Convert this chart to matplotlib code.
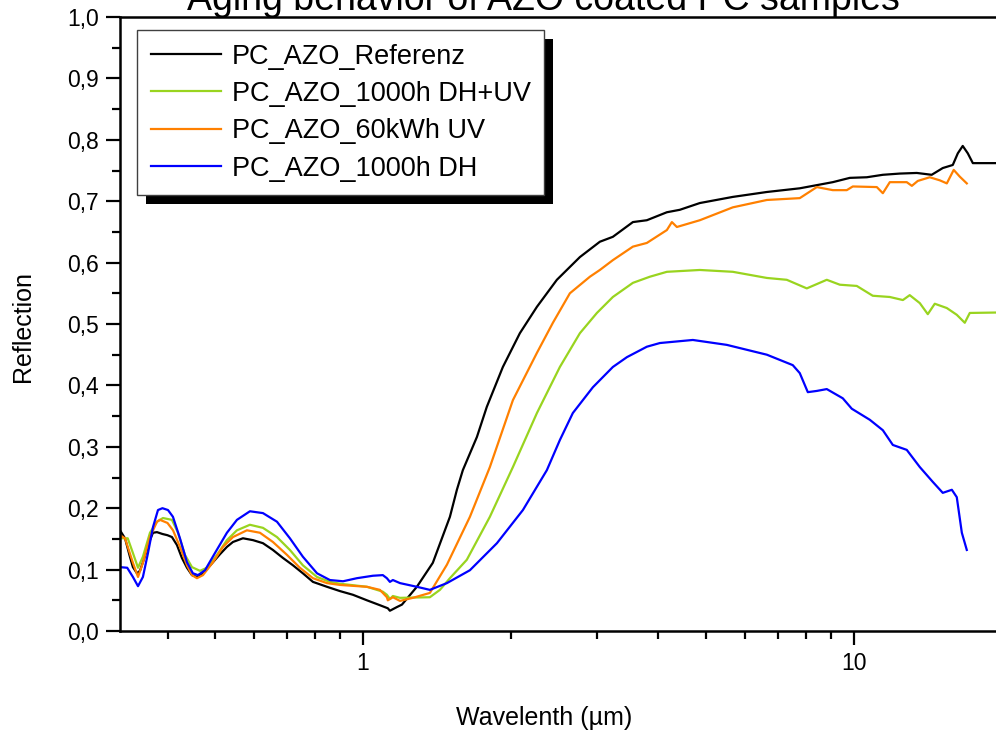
import matplotlib
matplotlib.use("Agg")
import matplotlib.pyplot as plt
from matplotlib.ticker import FixedLocator, FuncFormatter, NullFormatter, MultipleLocator
from matplotlib.patches import Rectangle

plt.rcParams['font.family'] = ['Liberation Sans', 'DejaVu Sans']

# ---------------- data (wavelength in µm, reflection) ----------------
ref_wl = [0.320, 0.3276, 0.3352, 0.3400, 0.3465, 0.3514, 0.3563, 0.3632, 0.3683, 0.3735,
          0.3806, 0.3905, 0.3998, 0.4083, 0.4180, 0.4278, 0.4381, 0.4485, 0.4591, 0.4700,
          0.4812, 0.4949, 0.5114, 0.5284, 0.5436, 0.5696, 0.5970, 0.6257, 0.6556, 0.6871,
          0.7203, 0.7545, 0.7910, 0.8448, 0.8979, 0.9542, 1.019, 1.083, 1.124, 1.135,
          1.173, 1.201, 1.288, 1.388, 1.504, 1.554, 1.598, 1.707, 1.788, 1.928,
          2.088, 2.262, 2.484, 2.767, 3.039, 3.230, 3.548, 3.788, 4.161, 4.422,
          4.857, 5.670, 6.651, 7.762, 9.061, 9.815, 10.63, 11.46, 12.41, 13.44,
          14.41, 15.18, 15.91, 16.29, 16.67, 17.07, 17.48, 25.0]
ref_r = [0.164, 0.151, 0.121, 0.104, 0.094, 0.098, 0.112, 0.132, 0.148, 0.160,
         0.161, 0.158, 0.156, 0.153, 0.140, 0.119, 0.103, 0.091, 0.088, 0.093,
         0.101, 0.112, 0.125, 0.137, 0.145, 0.151, 0.148, 0.143, 0.132, 0.119,
         0.107, 0.094, 0.080, 0.072, 0.065, 0.059, 0.050, 0.042, 0.037, 0.033,
         0.039, 0.043, 0.072, 0.111, 0.186, 0.230, 0.262, 0.316, 0.365, 0.430,
         0.485, 0.528, 0.572, 0.609, 0.634, 0.642, 0.666, 0.669, 0.682, 0.686,
         0.697, 0.707, 0.715, 0.721, 0.731, 0.738, 0.739, 0.743, 0.745, 0.746,
         0.743, 0.754, 0.759, 0.778, 0.790, 0.778, 0.762, 0.762]

dhuv_wl = [0.320, 0.3318, 0.3400, 0.3482, 0.3563, 0.3683, 0.3806, 0.3915, 0.4083, 0.4200,
           0.4339, 0.4485, 0.4656, 0.4812, 0.5043, 0.5284, 0.5538, 0.5886, 0.6257, 0.6682,
           0.7100, 0.7545, 0.8063, 0.8566, 0.8979, 1.019, 1.098, 1.119, 1.135, 1.151,
           1.190, 1.369, 1.435, 1.504, 1.628, 1.814, 2.021, 2.262, 2.519, 2.767,
           2.997, 3.230, 3.548, 3.842, 4.161, 4.857, 5.670, 6.140, 6.651, 7.302,
           8.021, 8.810, 9.365, 10.14, 10.93, 11.84, 12.59, 13.00, 13.63, 14.15,
           14.62, 15.47, 16.21, 16.83, 17.23, 25.0]
dhuv_r = [0.151, 0.151, 0.127, 0.103, 0.121, 0.160, 0.178, 0.184, 0.181, 0.160,
          0.124, 0.104, 0.098, 0.103, 0.124, 0.148, 0.164, 0.173, 0.168, 0.153,
          0.132, 0.107, 0.088, 0.080, 0.077, 0.072, 0.064, 0.059, 0.052, 0.057,
          0.054, 0.055, 0.067, 0.086, 0.116, 0.186, 0.267, 0.355, 0.430, 0.485,
          0.518, 0.544, 0.567, 0.577, 0.585, 0.588, 0.585, 0.580, 0.575, 0.572,
          0.558, 0.572, 0.564, 0.562, 0.546, 0.544, 0.539, 0.547, 0.534, 0.516,
          0.533, 0.526, 0.515, 0.502, 0.518, 0.520]

uv_wl = [0.320, 0.3276, 0.3400, 0.3482, 0.3563, 0.3683, 0.3806, 0.3860, 0.3998, 0.4104,
         0.4239, 0.4381, 0.4485, 0.4591, 0.4722, 0.4949, 0.5187, 0.5436, 0.5803, 0.6169,
         0.6556, 0.7003, 0.7440, 0.7910, 0.8448, 0.8979, 1.019, 1.083, 1.119, 1.124,
         1.151, 1.190, 1.264, 1.369, 1.483, 1.652, 1.814, 2.021, 2.262, 2.438,
         2.640, 2.900, 3.039, 3.230, 3.548, 3.788, 4.161, 4.260, 4.361, 4.857,
         5.670, 6.651, 7.762, 8.408, 9.061, 9.676, 9.954, 11.14, 11.46, 11.84,
         12.82, 13.13, 13.50, 14.28, 14.97, 15.47, 15.98, 16.44, 16.99]
uv_r = [0.156, 0.151, 0.111, 0.088, 0.111, 0.153, 0.178, 0.181, 0.176, 0.164,
        0.137, 0.107, 0.091, 0.086, 0.091, 0.112, 0.137, 0.153, 0.164, 0.160,
        0.145, 0.124, 0.103, 0.086, 0.078, 0.075, 0.072, 0.067, 0.055, 0.050,
        0.055, 0.049, 0.054, 0.062, 0.108, 0.186, 0.267, 0.376, 0.453, 0.502,
        0.550, 0.577, 0.588, 0.604, 0.626, 0.632, 0.653, 0.666, 0.658, 0.669,
        0.690, 0.702, 0.705, 0.723, 0.718, 0.718, 0.724, 0.723, 0.713, 0.731,
        0.731, 0.725, 0.733, 0.739, 0.734, 0.729, 0.751, 0.740, 0.729]

dh_wl = [0.320, 0.3310, 0.3400, 0.3482, 0.3563, 0.3649, 0.3735, 0.3824, 0.3905, 0.4008,
         0.4102, 0.4239, 0.4381, 0.4504, 0.4613, 0.4768, 0.4996, 0.5284, 0.5538, 0.5886,
         0.6257, 0.6682, 0.7100, 0.7545, 0.8063, 0.8566, 0.9110, 0.9723, 1.0481, 1.098,
         1.119, 1.135, 1.151, 1.190, 1.288, 1.369, 1.483, 1.652, 1.875, 2.118,
         2.370, 2.519, 2.677, 2.941, 3.230, 3.450, 3.788, 4.027, 4.700, 5.512,
         6.054, 6.651, 7.511, 7.762, 8.060, 8.408, 8.810, 9.497, 9.906, 10.78,
         11.46, 12.01, 12.82, 13.63, 14.48, 15.18, 15.84, 16.21, 16.60, 16.99]
dh_r = [0.104, 0.103, 0.088, 0.073, 0.088, 0.127, 0.169, 0.197, 0.200, 0.197,
        0.186, 0.151, 0.112, 0.094, 0.091, 0.099, 0.127, 0.160, 0.181, 0.195,
        0.192, 0.178, 0.151, 0.121, 0.094, 0.083, 0.081, 0.086, 0.090, 0.091,
        0.086, 0.080, 0.083, 0.078, 0.072, 0.067, 0.078, 0.099, 0.143, 0.197,
        0.262, 0.311, 0.355, 0.397, 0.430, 0.446, 0.463, 0.469, 0.474, 0.466,
        0.458, 0.450, 0.433, 0.420, 0.389, 0.391, 0.394, 0.379, 0.362, 0.344,
        0.327, 0.303, 0.295, 0.267, 0.243, 0.225, 0.230, 0.218, 0.160, 0.132]

labels = ["PC_AZO_Referenz", "PC_AZO_1000h DH+UV", "PC_AZO_60kWh UV", "PC_AZO_1000h DH"]
colors = ["#000000", "#99d41f", "#ff8000", "#0000ff"]

title = "Aging behavior of AZO coated PC samples"
xlabel = "Wavelenth (µm)"
ylabel = "Reflection"

# ---------------- figure ----------------
W, H = 996, 733
fig = plt.figure(figsize=(W / 100, H / 100), dpi=100)
ax_left, ax_right_px = 120, 1088
ax_top, ax_bot = 17, 631
ax = fig.add_axes([ax_left / W, 1 - ax_bot / H, (ax_right_px - ax_left) / W, (ax_bot - ax_top) / H])

series = [(ref_wl, ref_r), (dhuv_wl, dhuv_r), (uv_wl, uv_r), (dh_wl, dh_r)]
handles = []
for (wl, r), lab, c in zip(series, labels, colors):
    h, = ax.plot(wl, r, color=c, lw=1.6, label=lab, solid_joinstyle='round')
    handles.append(h)

ax.set_xscale('log')
ax.set_xlim(0.32, 30)
ax.set_ylim(0, 1.0)

ax.xaxis.set_major_locator(FixedLocator([1, 10]))
ax.xaxis.set_major_formatter(FuncFormatter(lambda v, p: f"{v:g}"))
ax.xaxis.set_minor_locator(FixedLocator([0.4, 0.5, 0.6, 0.7, 0.8, 0.9,
                                         2, 3, 4, 5, 6, 7, 8, 9, 20]))
ax.xaxis.set_minor_formatter(NullFormatter())
ax.yaxis.set_major_locator(MultipleLocator(0.1))
ax.yaxis.set_minor_locator(MultipleLocator(0.05))
ax.yaxis.set_major_formatter(FuncFormatter(lambda v, p: f"{v:.1f}".replace('.', ',')))

ax.tick_params(which='major', direction='out', length=10, width=1.6, labelsize=16.5, pad=5)
ax.tick_params(which='minor', direction='out', length=5.5, width=1.6)
for s in ['left', 'bottom', 'top', 'right']:
    ax.spines[s].set_linewidth(1.8)

fig.text(543 / W, 1 - 9.5 / H, title, ha='center', va='baseline', fontsize=27)
fig.text(544 / W, 1 - 718 / H, xlabel, ha='center', va='center', fontsize=18)
fig.text(23 / W, 1 - 327 / H, ylabel, ha='center', va='center', rotation=90, fontsize=18)

leg = ax.legend(handles=handles, loc='upper left',
                bbox_to_anchor=(137 / W, 1 - 30 / H), bbox_transform=fig.transFigure,
                borderaxespad=0, fontsize=19.5, frameon=True, fancybox=False,
                edgecolor='#404040', framealpha=1, handlelength=2.6, handletextpad=0.4,
                labelspacing=0.42, borderpad=0.5)
leg.get_frame().set_linewidth(1.0)
leg.set_zorder(6)

fig.canvas.draw()
bb = leg.get_window_extent()
off = 9
shadow = Rectangle((bb.x0 + off, bb.y0 - off), bb.width, bb.height, transform=None,
                   facecolor='black', edgecolor='none', zorder=5.5)
ax.add_artist(shadow)

fig.savefig("out.png", dpi=100)
